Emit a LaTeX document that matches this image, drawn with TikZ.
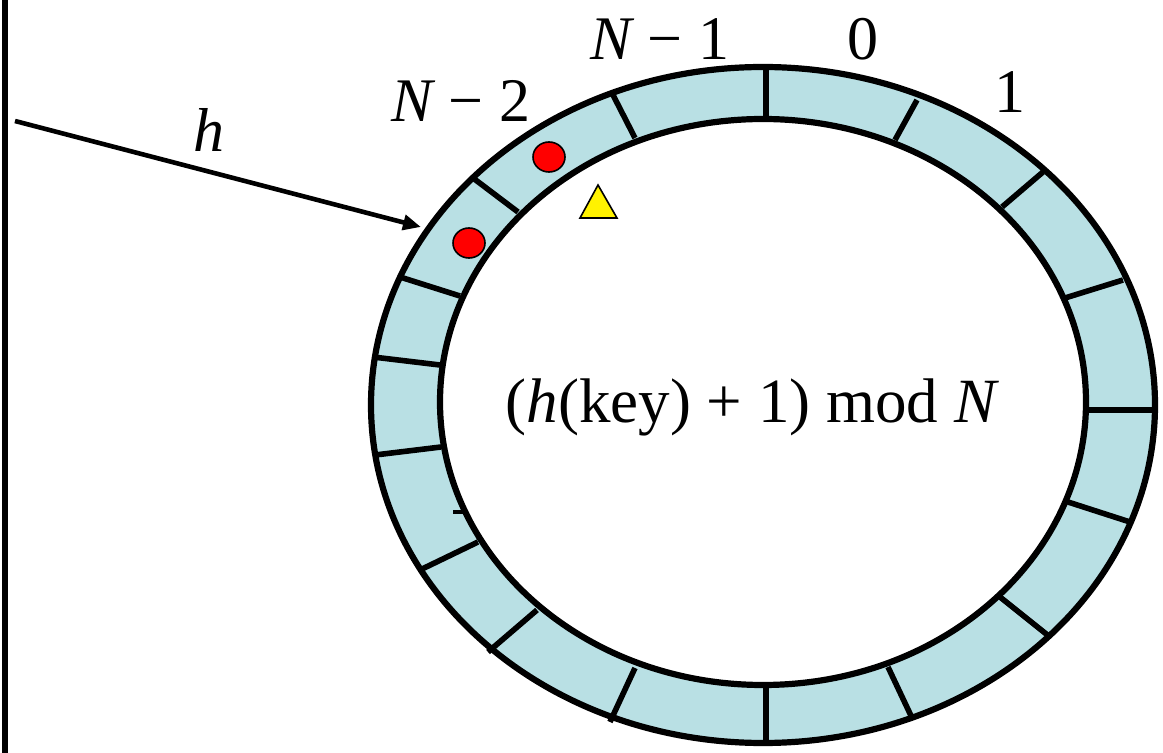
\documentclass[tikz,border=0pt]{standalone}
\usepackage{fontspec}
\setmainfont{Liberation Serif}
\usetikzlibrary{arrows.meta}
\definecolor{ringblue}{RGB}{185,224,228}
\begin{document}
\begin{tikzpicture}[x=0.5pt,y=-0.5pt,
  border/.style={line width=3.1pt},
  divider/.style={line width=2.8pt},
  lbl/.style={font=\fontsize{31}{36}\selectfont, inner sep=0pt, anchor=base},
  bigtext/.style={font=\fontsize{31.5}{38}\selectfont, inner sep=0pt, anchor=base},
  dot/.style={fill=red, draw=black, line width=0.8pt},
  tri/.style={fill=yellow, draw=black, line width=0.8pt}]
\useasboundingbox (0,0) rectangle (1163,753);
% left vertical line
\draw[line width=3.4pt] (5,0) -- (5,753);
% ring fill
\fill[ringblue, even odd rule] (763,405) ellipse [x radius=392, y radius=338]
  (763,402) ellipse [x radius=323, y radius=283];
% dividers
\foreach \a/\b/\c/\d in {766/67/766/119, 612/93/635/138, 473/178/518/212,
  400/277/460/296, 373/357/440/365, 375/455/441/447, 420/570/478/542,
  488/652/537/610, 610/722/635/668, 766/743/766/685, 913/720/888/667,
  1050/637/1000/597, 1130/522/1068/502, 1155/410/1085/410,
  1123/280/1065/298, 1043/172/1002/207, 917/100/895/140}
  \draw[divider] (\a,\b) -- (\c,\d);
\draw[line width=1.6pt] (453,512) -- (464,512);
% ring borders
\draw[border] (763,405) ellipse [x radius=392, y radius=338];
\draw[border] (763,402) ellipse [x radius=323, y radius=283];
% markers
\draw[dot] (549,157) ellipse [x radius=16, y radius=15];
\draw[dot] (469,243) ellipse [x radius=16, y radius=15];
\draw[tri] (598,185) -- (617,218) -- (580,218) -- cycle;
% arrow h
\coordinate (hstart) at (15,121);
\coordinate (hend) at (421,227);
\draw[line width=2.3pt, -{Triangle[length=9pt, width=7.5pt]}] (hstart) -- (hend);
\node[lbl] (hlabel) at (209,152) {\itshape h};
% labels
\node[lbl] (lN2) at (461,122) {{\itshape N} − 2};
\node[lbl] (lN1) at (660,60) {{\itshape N} − 1};
\node[lbl] (l0) at (863,60) {0};
\node[lbl] (l1) at (1010,113) {1};
\node[bigtext] (formula) at (751,423) {({\itshape h}(key) + 1) mod {\itshape N}};
\end{tikzpicture}
\end{document}
